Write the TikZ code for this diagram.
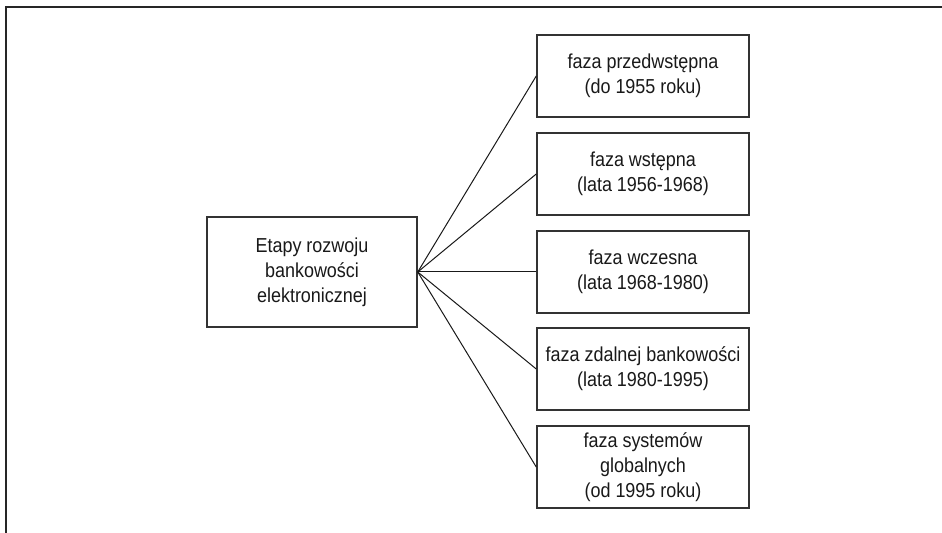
\documentclass[tikz,border=0pt]{standalone}
\usepackage{fontspec}
\setmainfont{Liberation Sans}[FakeStretch=0.89]
\tikzset{
  etap/.style={draw=black!80, line width=0.75pt, align=center, inner sep=0pt,
    font=\fontsize{10.1}{12.5}\selectfont, text=black!90},
  faza/.style={etap, minimum width=106pt, minimum height=41pt},
  glowny/.style={etap, minimum width=105pt, minimum height=55pt}
}
\begin{document}
\begin{tikzpicture}[x=0.5pt,y=-0.5pt]
      \useasboundingbox (0,0) rectangle (942,533);
      \draw[line width=1pt, black!85] (6,533) -- (6,7) -- (942,7);
      \draw
        (312,272) node[glowny] (e){Etapy rozwoju\\bankowości\\elektronicznej}
        (643,76) node[faza] (f1){faza przedwstępna\\(do 1955 roku)}
        (643,174) node[faza] (f2){faza wstępna\\(lata 1956-1968)}
        (643,272) node[faza] (f3){faza wczesna\\(lata 1968-1980)}
        (643,369) node[faza] (f4){faza zdalnej bankowości\\(lata 1980-1995)}
        (643,467) node[faza] (f5){faza systemów\\globalnych\\(od 1995 roku)};
      \begin{scope}[-, line width=0.5pt, black!90]
        \draw (e.east) to (f1.west);
        \draw (e.east) to (f2.west);
        \draw (e.east) to (f3.west);
        \draw (e.east) to (f4.west);
        \draw (e.east) to (f5.west);
      \end{scope}
    \end{tikzpicture}
\end{document}
